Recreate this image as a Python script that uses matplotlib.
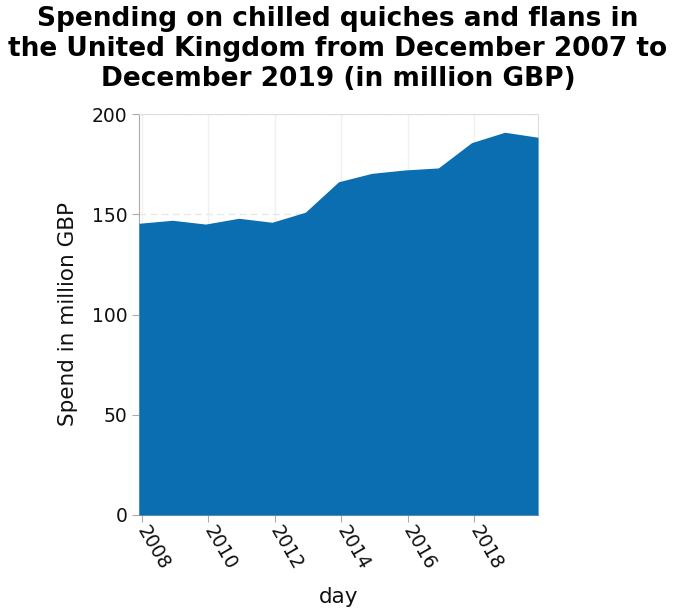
import matplotlib
matplotlib.use("Agg")
import matplotlib.pyplot as plt
import matplotlib.dates as mdates
import pandas as pd

dates = pd.to_datetime([f"{y}-12-01" for y in range(2007, 2020)])
spend = [145.5, 147.0, 145.1, 148.0, 146.0, 151.0, 166.2, 170.4, 172.1, 173.1, 185.7, 190.9, 188.4]
yticks = [0, 50, 100, 150, 200]
xtick_years = [2008, 2010, 2012, 2014, 2016, 2018]

fig = plt.figure(figsize=(6.76, 6.16), dpi=100)
ax = fig.add_axes([139/676, 101/616, 399/676, 401/616])

ax.fill_between(dates, spend, 0, color="#0a6eb0", linewidth=0, zorder=3)

ax.set_xlim(dates[0], dates[-1])
ax.set_ylim(0, 200)
ax.set_yticks(yticks)
ax.set_xticks(pd.to_datetime([f"{y}-01-01" for y in xtick_years]))
ax.xaxis.set_major_formatter(mdates.DateFormatter("%Y"))

ax.grid(True, color="#f0f0f0", linewidth=1, zorder=0)
ax.yaxis.grid(True, color="#e8e8e8", linewidth=1, linestyle=(0, (5, 3)), zorder=0)
for s in ["top", "right"]:
    ax.spines[s].set_color("#dddddd")
for s in ["left", "bottom"]:
    ax.spines[s].set_color("#aaaaaa")
ax.tick_params(axis="both", colors="#aaaaaa", length=5, labelcolor="#111111", labelsize=13.5)

for lbl in ax.get_xticklabels():
    lbl.set_rotation(-60)
    lbl.set_rotation_mode("anchor")
    lbl.set_ha("left")
    lbl.set_va("center")

ax.set_xlabel("day", fontsize=15.5, color="#111111", labelpad=10)
ax.set_ylabel("Spend in million GBP", fontsize=15.5, color="#111111", labelpad=10)

fig.suptitle("Spending on chilled quiches and flans in\nthe United Kingdom from December 2007 to\nDecember 2019 (in million GBP)",
             fontsize=19, fontweight="bold", y=0.99, va="top", linespacing=1.2)

fig.savefig("out.png", dpi=100)
